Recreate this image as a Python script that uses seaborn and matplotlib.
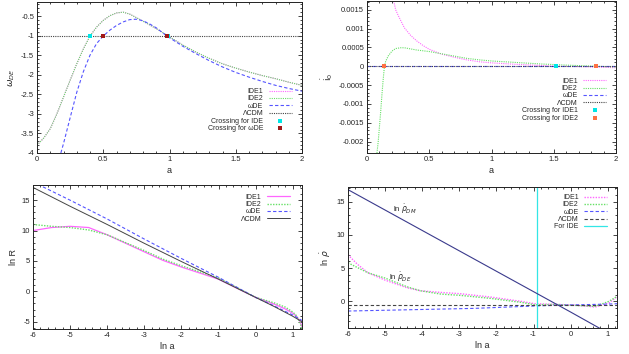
import matplotlib
matplotlib.use("Agg")
import matplotlib.pyplot as plt
import seaborn as sns
from matplotlib.ticker import AutoMinorLocator, FixedLocator, FixedFormatter

sns.set_style("ticks")
plt.rcParams['font.family'] = ['Liberation Sans', 'DejaVu Sans']
plt.rcParams['mathtext.fontset'] = 'dejavusans'

# ---------------- data: panel 1 (w_DE vs a) ----------------
a_ide = [0, 0.05, 0.1, 0.15, 0.2, 0.25, 0.3, 0.35, 0.4, 0.45, 0.5, 0.55, 0.6, 0.65,
         0.7, 0.8, 0.9, 1.0, 1.1, 1.2, 1.3, 1.4, 1.5, 1.6, 1.7, 1.8, 1.9, 2.0]
w_ide1 = [-3.80, -3.62, -3.38, -3.0, -2.57, -2.14, -1.72, -1.34, -1.01, -0.78, -0.61, -0.49,
          -0.42, -0.40, -0.45, -0.63, -0.82, -1.03, -1.24, -1.42, -1.58, -1.72, -1.83,
          -1.93, -2.02, -2.10, -2.19, -2.27]
w_ide2 = [-3.80, -3.62, -3.38, -3.0, -2.57, -2.14, -1.72, -1.34, -1.01, -0.78, -0.61, -0.49,
          -0.42, -0.40, -0.45, -0.63, -0.82, -1.03, -1.24, -1.42, -1.58, -1.72, -1.83,
          -1.93, -2.02, -2.10, -2.19, -2.27]
a_wde = [0.18, 0.2, 0.25, 0.3, 0.35, 0.4, 0.45, 0.5, 0.55, 0.6, 0.65, 0.7, 0.75, 0.8,
         0.85, 0.9, 0.98, 1.1, 1.2, 1.3, 1.4, 1.5, 1.6, 1.7, 1.8, 1.9, 2.0]
w_wde = [-4.0, -3.76, -3.10, -2.45, -1.92, -1.50, -1.20, -1.01, -0.86, -0.74, -0.65, -0.59,
         -0.58, -0.62, -0.70, -0.80, -1.01, -1.27, -1.46, -1.64, -1.80, -1.94, -2.06,
         -2.17, -2.27, -2.35, -2.42]
a_lcdm1 = [0, 2]
w_lcdm = [-1, -1]
cross_ide_a = [0.40, 0.99]
cross_ide_w = [-1, -1]
cross_wde_a = [0.50, 0.98]
cross_wde_w = [-1, -1]

# ---------------- data: panel 2 (i_0 vs a) ----------------
a_i1 = [0.21, 0.23, 0.25, 0.3, 0.35, 0.4, 0.45, 0.5, 0.6, 0.7, 0.8, 0.9, 1.0, 1.2, 1.4,
        1.52, 1.7, 1.85, 2.0]
i_ide1 = [0.0018, 0.0015, 0.00135, 0.00102, 0.00082, 0.00067, 0.00055, 0.00045, 0.00032,
          0.00024, 0.00017, 0.00012, 0.00009, 0.00005, 0.00002, 0.0, -0.00001, -0.00002,
          -0.00004]
a_i2 = [0.08, 0.09, 0.1, 0.11, 0.12, 0.13, 0.14, 0.15, 0.17, 0.2, 0.23, 0.27, 0.3, 0.35,
        0.4, 0.5, 0.6, 0.7, 0.8, 0.9, 1.0, 1.2, 1.4, 1.6, 1.84, 2.0]
i_ide2 = [-0.0023, -0.0020, -0.0016, -0.0012, -0.00075, -0.00035, 0.0, 0.00013, 0.00027,
          0.0004, 0.00047, 0.00049, 0.00049, 0.00046, 0.00043, 0.00039, 0.00033, 0.00027,
          0.00021, 0.00017, 0.00014, 0.0001, 0.00006, 0.00003, 0.0, -0.00002]
a_flat = [0, 2]
i_wde = [0, 0]
i_lcdm = [0, 0]
cross_i1_a = [1.52]
cross_i1_v = [0]
cross_i2_a = [0.14, 1.84]
cross_i2_v = [0, 0]

# ---------------- data: panel 3 (ln R vs ln a) ----------------
lna_R = [-6, -5.5, -5, -4.5, -4, -3.5, -3, -2.5, -2, -1.5, -1, -0.5, 0, 0.5, 0.8, 1.0,
         1.1, 1.2, 1.25]
lnR_ide1 = [10.0, 10.5, 10.7, 10.5, 9.3, 7.9, 6.5, 5.1, 4.0, 3.0, 2.0, 0.5, -1.0, -2.1,
            -2.9, -3.6, -4.1, -5.0, -5.8]
lnR_ide2 = [11.0, 10.7, 10.5, 10.1, 9.3, 8.0, 6.7, 5.3, 4.2, 3.2, 2.2, 0.6, -1.0, -1.9,
            -2.6, -3.4, -4.0, -5.2, -6.2]
lna_R2 = [-6, -5, -4, -3, -2, -1, 0, 0.5, 1, 1.25]
lnR_wde = [18.0, 15.0, 11.9, 8.6, 5.4, 2.3, -1.0, -2.4, -3.9, -4.8]
lnR_lcdm = [17.1, 14.0, 11.0, 7.9, 4.9, 2.0, -1.0, -2.5, -4.1, -5.0]

# ---------------- data: panel 4 (ln rho vs ln a) ----------------
lna_rho = [-6, -5.75, -5.46, -5, -4.41, -4.05, -3.5, -2.96, -2.15, -1.33, -0.97, -0.43,
           0.12, 0.66, 1.03, 1.25]
lnrho_ide1 = [7.0, 5.6, 4.3, 3.2, 2.05, 1.6, 1.35, 1.15, 0.65, 0.0, -0.35, -0.45, -0.55,
              -0.85, -0.25, 0.7]
lnrho_ide2 = [5.8, 5.1, 4.3, 3.5, 2.2, 1.6, 1.1, 0.9, 0.45, -0.15, -0.5, -0.45, -0.6,
              -0.75, 0.0, 0.75]
lna_line = [-6, -2.6, -0.79, 1.03, 1.25]
lnrho_wde = [-1.45, -1.05, -0.65, -0.4, -0.35]
lna_flat = [-6, 1.25]
lnrho_lcdm = [-0.5, -0.5]
lna_dm = [-6, -3, 0, 1.25]
lnrho_dm = [16.8, 7.6, -1.6, -5.5]
ide_lna = -0.9

# ---------------- styling ----------------
C_IDE1 = '#ff66ff'
C_IDE2 = '#66e066'
C_WDE = '#5555ff'
C_LCDM = '#444444'
C_CYAN = '#33e6e6'
DOT = (0, (1, 1))
DASH = (0, (3, 2))
LW = 0.8
TFS = 5.5
LFS = 6.5

fig = plt.figure(figsize=(6.29, 3.54), dpi=100)
W, H = 629, 354
ax1 = fig.add_axes([37 / W, (H - 153) / H, 265 / W, 151 / H])
ax2 = fig.add_axes([367 / W, (H - 153) / H, 249 / W, 152 / H])
ax3 = fig.add_axes([33 / W, (H - 329) / H, 269 / W, 144 / H])
ax4 = fig.add_axes([348 / W, (H - 328) / H, 269 / W, 141 / H])


def style(ax):
    ax.tick_params(which='both', direction='in', top=True, right=True, labelsize=TFS,
                   width=0.6, pad=2)
    ax.tick_params(which='major', length=3)
    ax.tick_params(which='minor', length=1.5)
    ax.xaxis.set_minor_locator(AutoMinorLocator(5))
    ax.yaxis.set_minor_locator(AutoMinorLocator(5))
    for s in ax.spines.values():
        s.set_linewidth(0.7)
        s.set_color('#222222')


def leg(ax, loc, anchor):
    ax.legend(loc=loc, bbox_to_anchor=anchor, frameon=False, markerfirst=False,
              fontsize=5, labelspacing=0.05, handlelength=3.3, handletextpad=0.8,
              borderpad=0, borderaxespad=0, markerscale=1.0)


def line(ax, x, y, c, ls, label, lw=LW):
    sns.lineplot(x=x, y=y, ax=ax, color=c, linestyle=ls, linewidth=lw, label=label,
                 estimator=None, sort=False)


# panel 1
line(ax1, a_ide, w_ide1, C_IDE1, DOT, 'IDE1')
line(ax1, a_ide, w_ide2, C_IDE2, DOT, 'IDE2')
line(ax1, a_wde, w_wde, C_WDE, DASH, 'ωDE')
line(ax1, a_lcdm1, w_lcdm, C_LCDM, DOT, 'ΛCDM')
sns.scatterplot(x=cross_ide_a, y=cross_ide_w, ax=ax1, color='#00e6e6', marker='s', s=5,
                linewidth=0, label='Crossing for IDE', zorder=5)
sns.scatterplot(x=cross_wde_a, y=cross_wde_w, ax=ax1, color='#a01818', marker='s', s=5,
                linewidth=0, label='Crossing for ωDE', zorder=5)
ax1.set_xlim(0, 2)
ax1.set_ylim(-4, -0.14)
ax1.set_xticks([0, 0.5, 1, 1.5, 2])
ax1.set_xticklabels(['0', '0.5', '1', '1.5', '2'])
ax1.set_yticks([-4, -3.5, -3, -2.5, -2, -1.5, -1, -0.5])
ax1.set_yticklabels(['-4', '-3.5', '-3', '-2.5', '-2', '-1.5', '-1', '-0.5'])
ax1.set_xlabel('a', fontsize=LFS, labelpad=2)
ax1.set_ylabel(r'$\omega_{DE}$', fontsize=LFS, labelpad=3)
style(ax1)
leg(ax1, 'lower right', (0.962, 0.14))

# panel 2
line(ax2, a_i1, i_ide1, C_IDE1, DOT, 'IDE1')
line(ax2, a_i2, i_ide2, C_IDE2, DOT, 'IDE2')
line(ax2, a_flat, i_wde, C_WDE, DASH, 'ωDE')
line(ax2, a_flat, i_lcdm, C_LCDM, DOT, 'ΛCDM')
sns.scatterplot(x=cross_i1_a, y=cross_i1_v, ax=ax2, color='#00e6e6', marker='s', s=5,
                linewidth=0, label='Crossing for IDE1', zorder=5)
sns.scatterplot(x=cross_i2_a, y=cross_i2_v, ax=ax2, color='#ff7043', marker='s', s=5,
                linewidth=0, label='Crossing for IDE2', zorder=5)
ax2.set_xlim(0, 2)
ax2.set_ylim(-0.0023, 0.00173)
ax2.set_xticks([0, 0.5, 1, 1.5, 2])
ax2.set_xticklabels(['0', '0.5', '1', '1.5', '2'])
yt2 = [-0.002, -0.0015, -0.001, -0.0005, 0, 0.0005, 0.001, 0.0015]
ax2.set_yticks(yt2)
ax2.set_yticklabels(['-0.002', '-0.0015', '-0.001', '-0.0005', '0', '0.0005', '0.001',
                     '0.0015'])
ax2.set_xlabel('a', fontsize=LFS, labelpad=2)
ax2.set_ylabel(r'$\dot{\mathrm{i}}_0$', fontsize=LFS, labelpad=3)
style(ax2)
leg(ax2, 'lower right', (0.96, 0.207))

# panel 3
line(ax3, lna_R, lnR_ide1, C_IDE1, '-', 'IDE1', lw=0.9)
line(ax3, lna_R, lnR_ide2, C_IDE2, DOT, 'IDE2', lw=1.0)
line(ax3, lna_R2, lnR_wde, C_WDE, DASH, 'ωDE')
line(ax3, lna_R2, lnR_lcdm, C_LCDM, '-', 'ΛCDM', lw=0.7)
ax3.set_xlim(-6, 1.25)
ax3.set_ylim(-6.2, 17.5)
ax3.set_xticks([-6, -5, -4, -3, -2, -1, 0, 1])
ax3.set_xticklabels(['-6', '-5', '-4', '-3', '-2', '-1', '0', '1'])
ax3.set_yticks([-5, 0, 5, 10, 15])
ax3.set_yticklabels(['-5', '0', '5', '10', '15'])
ax3.set_xlabel('ln a', fontsize=LFS, labelpad=2)
ax3.set_ylabel('ln R', fontsize=LFS, labelpad=3)
style(ax3)
leg(ax3, 'upper right', (0.955, 0.94))

# panel 4
line(ax4, lna_rho, lnrho_ide1, C_IDE1, DOT, 'IDE1', lw=1.0)
line(ax4, lna_rho, lnrho_ide2, C_IDE2, DOT, 'IDE2', lw=1.0)
line(ax4, lna_line, lnrho_wde, C_WDE, DASH, 'ωDE')
line(ax4, lna_flat, lnrho_lcdm, C_LCDM, DASH, 'ΛCDM')
ax4.axvline(ide_lna, color=C_CYAN, linewidth=0.9, label='For IDE')
sns.lineplot(x=lna_dm, y=lnrho_dm, ax=ax4, color='#3a3a8c', linewidth=0.8,
             estimator=None, sort=False)
ax4.text(-4.8, 13.9, r'ln $\dot{\rho}_{DM}$', fontsize=5.5, va='center')
ax4.text(-4.9, 3.6, r'ln $\dot{\rho}_{DE}$', fontsize=5.5, va='center')
ax4.set_xlim(-6, 1.25)
ax4.set_ylim(-4, 17.2)
ax4.set_xticks([-6, -5, -4, -3, -2, -1, 0, 1])
ax4.set_xticklabels(['-6', '-5', '-4', '-3', '-2', '-1', '0', '1'])
ax4.set_yticks([0, 5, 10, 15])
ax4.set_yticklabels(['0', '5', '10', '15'])
ax4.set_xlabel('ln a', fontsize=LFS, labelpad=2)
ax4.set_ylabel(r'ln $\dot{\rho}$', fontsize=LFS, labelpad=3)
style(ax4)
leg(ax4, 'upper right', (0.963, 0.95))

fig.savefig('out.png', dpi=100)
